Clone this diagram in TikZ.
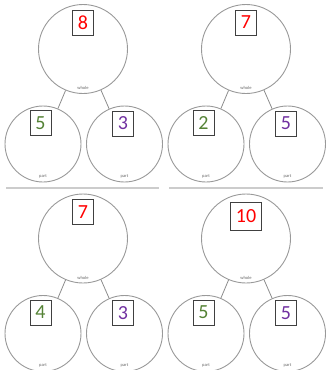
\documentclass[tikz,border=0pt]{standalone}
\usepackage{fontspec}
\setmainfont{Carlito}
\usepackage{xcolor}
\usetikzlibrary{positioning}
\definecolor{numred}{HTML}{FF0000}
\definecolor{numgreen}{HTML}{548235}
\definecolor{numpurple}{HTML}{7030A0}

\begin{document}
\begin{tikzpicture}[
  x=1pt, y=-1pt,
  whole/.style={circle, draw=black!40, line width=0.9pt, minimum size=89pt, inner sep=0pt},
  part/.style={circle, draw=black!40, line width=0.9pt, minimum size=76pt, inner sep=0pt},
  numbox/.style={draw=black!75, line width=0.8pt, minimum width=21pt, inner xsep=5pt,
                 inner ysep=0pt, font=\fontsize{20}{20}\selectfont},
  tag/.style={font=\fontsize{4.5}{5}\selectfont, text=black!60, inner sep=0pt},
  link/.style={draw=black!45, line width=0.8pt},
  rule/.style={draw=black!20, line width=1.2pt}
]
\useasboundingbox (0,0) rectangle (326,370);

% one whole-part diagram per panel
\foreach \i/\cx/\cy/\vw/\vl/\vr/\bh/\by in
  {1/83/49/8/5/3/25/26.5, 2/246/49/7/2/5/25/26.5,
   3/83/238.5/7/4/3/25/26.5, 4/246/238.5/10/5/5/28/22.5}{
  \node[whole] (w\i) at (\cx,\cy) {};
  \node[part] (l\i) at (\cx-40,\cy+95) {};
  \node[part] (r\i) at (\cx+41.5,\cy+95) {};
  \draw[link] (w\i) -- (l\i);
  \draw[link] (w\i) -- (r\i);
  \node[numbox, minimum height=\bh pt, text=numred] (bw\i) at (\cx,\cy-\by) {\vw};
  \node[numbox, minimum height=25pt, text=numgreen] (bl\i) at (\cx-42.5,\cy+74) {\vl};
  \node[numbox, minimum height=25pt, text=numpurple] (br\i) at (\cx+40,\cy+74.5) {\vr};
  \node[tag] (tw\i) at (\cx,\cy+39) {whole};
  \node[tag] (tl\i) at (\cx-40,\cy+127) {part};
  \node[tag] (tr\i) at (\cx+41.5,\cy+127) {part};
}

\draw[rule] (6,188) -- (159,188);
\draw[rule] (169,188) -- (323,188);
\end{tikzpicture}
\end{document}
